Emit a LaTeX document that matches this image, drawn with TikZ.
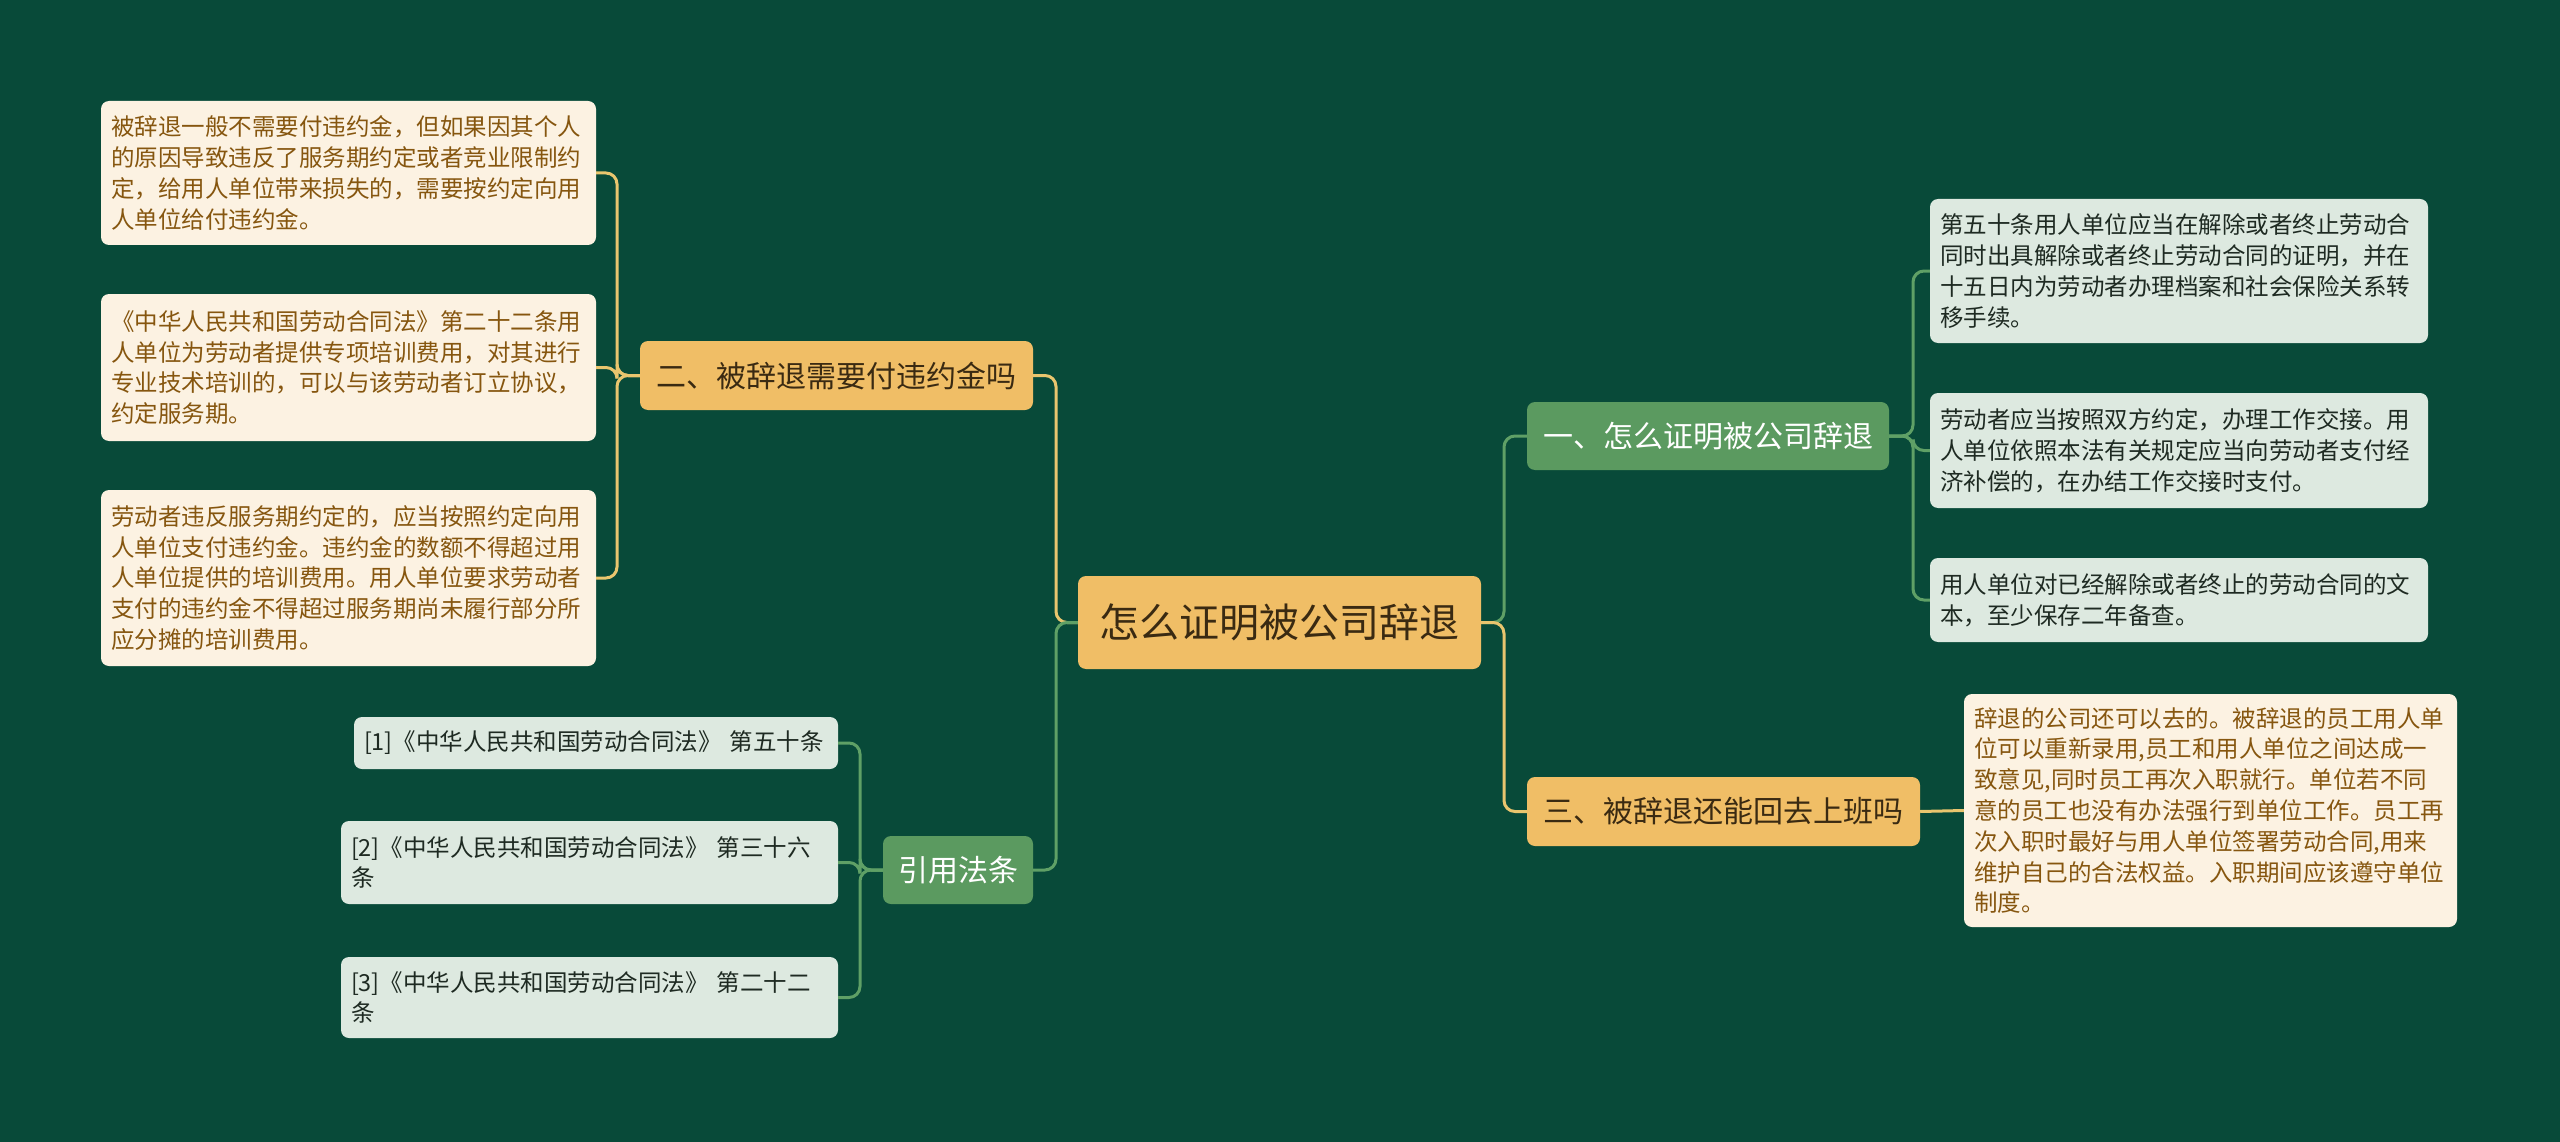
\documentclass[tikz,border=0pt]{standalone}
\usepackage{fontspec}
\setmainfont{Noto Sans CJK SC}
\definecolor{bgc}{HTML}{084A39}
\definecolor{orfill}{HTML}{F0BE66}
\definecolor{grfill}{HTML}{5B9A60}
\definecolor{crfill}{HTML}{FCF2E2}
\definecolor{crtext}{HTML}{86560F}
\definecolor{lgfill}{HTML}{DDE9E0}
\definecolor{lgtext}{HTML}{1E2A22}
\definecolor{dktext}{HTML}{3A2A12}
\definecolor{orline}{HTML}{E9C56E}
\definecolor{grline}{HTML}{5FA066}
\tikzset{
  base/.style={rounded corners=8pt, inner sep=0pt, anchor=center},
  rootbox/.style={base, fill=orfill, text=dktext, font=\fontsize{40}{46}\selectfont},
  orbox/.style={base, fill=orfill, text=dktext, font=\fontsize{30}{36}\selectfont},
  grbox/.style={base, fill=grfill, text=white, font=\fontsize{30}{36}\selectfont},
  crleaf/.style={base, fill=crfill, text=crtext, align=left, inner xsep=10pt,
     font=\fontsize{23.5}{30.8}\selectfont},
  lgleaf/.style={base, fill=lgfill, text=lgtext, align=left, inner xsep=10pt,
     font=\fontsize{23.5}{30.8}\selectfont},
  oconn/.style={draw=orline, line width=3pt, rounded corners=11pt},
  gconn/.style={draw=grline, line width=3pt, rounded corners=11pt},
}
\begin{document}
\begin{tikzpicture}[x=1pt,y=-1pt]
\fill[bgc] (0,0) rectangle (2560,1142);
\useasboundingbox (0,0) rectangle (2560,1142);

% root
\node[rootbox, minimum width=403pt, minimum height=93pt] (root) at (1279.5,622.5) {怎么证明被公司辞退};

% level 1
\node[orbox, minimum width=393pt, minimum height=69pt] (n2) at (836.5,375.5) {二、被辞退需要付违约金吗};
\node[grbox, minimum width=150pt, minimum height=68pt] (ref) at (958,870) {引用法条};
\node[grbox, minimum width=362pt, minimum height=68pt] (n1) at (1708,436) {一、怎么证明被公司辞退};
\node[orbox, minimum width=393pt, minimum height=69pt] (n3) at (1723.5,811.5) {三、被辞退还能回去上班吗};

% left leaves
\node[crleaf, text width=475pt, minimum height=144pt] (a) at (348.5,173) {被辞退一般不需要付违约金，但如果因其个人\\的原因导致违反了服务期约定或者竞业限制约\\定，给用人单位带来损失的，需要按约定向用\\人单位给付违约金。};
\node[crleaf, text width=475pt, minimum height=147pt] (b) at (348.5,367.5) {《中华人民共和国劳动合同法》第二十二条用\\人单位为劳动者提供专项培训费用，对其进行\\专业技术培训的，可以与该劳动者订立协议，\\约定服务期。};
\node[crleaf, text width=475pt, minimum height=176pt] (c) at (348.5,578) {劳动者违反服务期约定的，应当按照约定向用\\人单位支付违约金。违约金的数额不得超过用\\人单位提供的培训费用。用人单位要求劳动者\\支付的违约金不得超过服务期尚未履行部分所\\应分摊的培训费用。};

% references
\node[lgleaf, text width=464pt, minimum height=52pt] (r1) at (596,743) {[1]《中华人民共和国劳动合同法》 第五十条};
\node[lgleaf, text width=477pt, minimum height=83pt] (r2) at (589.5,862.5) {[2]《中华人民共和国劳动合同法》 第三十六\\条};
\node[lgleaf, text width=477pt, minimum height=81pt] (r3) at (589.5,997.5) {[3]《中华人民共和国劳动合同法》 第二十二\\条};

% right leaves
\node[lgleaf, text width=478pt, minimum height=144pt] (p1) at (2179,271) {第五十条用人单位应当在解除或者终止劳动合\\同时出具解除或者终止劳动合同的证明，并在\\十五日内为劳动者办理档案和社会保险关系转\\移手续。};
\node[lgleaf, text width=478pt, minimum height=115pt] (p2) at (2179,450.5) {劳动者应当按照双方约定，办理工作交接。用\\人单位依照本法有关规定应当向劳动者支付经\\济补偿的，在办结工作交接时支付。};
\node[lgleaf, text width=478pt, minimum height=84pt] (p3) at (2179,600) {用人单位对已经解除或者终止的劳动合同的文\\本，至少保存二年备查。};
\node[crleaf, text width=473pt, minimum height=233pt] (q1) at (2210.5,810.5) {辞退的公司还可以去的。被辞退的员工用人单\\位可以重新录用,员工和用人单位之间达成一\\致意见,同时员工再次入职就行。单位若不同\\意的员工也没有办法强行到单位工作。员工再\\次入职时最好与用人单位签署劳动合同,用来\\维护自己的合法权益。入职期间应该遵守单位\\制度。};

% trunk coordinates
\coordinate (lt) at (1056,622.5);
\coordinate (rt) at (1504,622.5);
\coordinate (lb) at (617,375.5);
\coordinate (refb) at (860,870);
\coordinate (rb) at (1913,436);

% connectors
\draw[oconn] (root.west) -- (lt) |- (n2.east);
\draw[gconn] (root.west) -- (lt) |- (ref.east);
\draw[gconn] (root.east) -- (rt) |- (n1.west);
\draw[oconn] (root.east) -- (rt) |- (n3.west);

\draw[oconn] (n2.west) -- (lb) |- (a.east);
\draw[oconn] (n2.west) -- (lb) |- (b.east);
\draw[oconn] (n2.west) -- (lb) |- (c.east);

\draw[gconn] (ref.west) -- (refb) |- (r1.east);
\draw[gconn] (ref.west) -- (refb) |- (r2.east);
\draw[gconn] (ref.west) -- (refb) |- (r3.east);

\draw[gconn] (n1.east) -- (rb) |- (p1.west);
\draw[gconn] (n1.east) -- (rb) |- (p2.west);
\draw[gconn] (n1.east) -- (rb) |- (p3.west);

\draw[oconn] (n3.east) -- (q1.west);
\end{tikzpicture}
\end{document}
